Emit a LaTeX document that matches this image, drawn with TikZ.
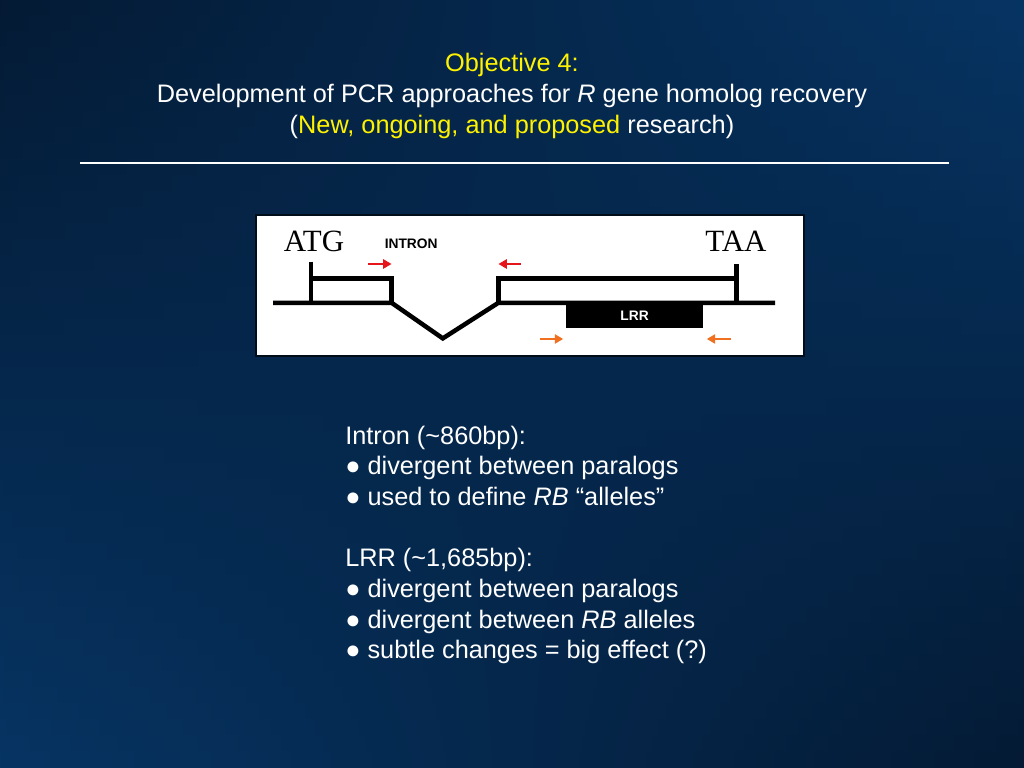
\documentclass[tikz,border=0pt]{standalone}
\usepackage{fontspec}
\setmainfont{Liberation Sans}
\newfontfamily\codonfont{Liberation Serif}
\usetikzlibrary{arrows.meta}
\definecolor{bgdark}{RGB}{4,26,52}
\definecolor{bglight}{RGB}{6,52,99}
\definecolor{primerred}{RGB}{228,22,28}
\definecolor{primerorange}{RGB}{240,112,32}

\begin{document}
\begin{tikzpicture}[
gene/.style={line width=3.2pt,line join=miter},
primer/.style={line width=1.8pt,-{Triangle[length=6pt,width=6.5pt]}},
codon/.style={font=\codonfont\fontsize{22}{24}\selectfont},
tag/.style={font=\bfseries\fontsize{9.8}{12}\selectfont},
slidetext/.style={text=white,inner sep=0pt,font=\fontsize{18}{21.8}\selectfont}]

\useasboundingbox (0,0) rectangle (25.6,19.2);
% background
\foreach \i in {0,...,47}{
  \pgfmathsetmacro\p{(\i+0.5)*100/48}
  \colorlet{lc}{bglight!\p!bgdark}
  \colorlet{rc}{bgdark!\p!bglight}
  \shade[left color=lc,right color=rc] (0,19.2-\i*0.4) rectangle (25.6,18.78-\i*0.4);
}

% heading
\node[slidetext,align=center,anchor=north] (title) at (12.8,17.87)
  {\textcolor{yellow}{Objective 4:}\\
   Development of PCR approaches for \textit{R} gene homolog recovery\\
   (\textcolor{yellow}{New, ongoing, and proposed} research)};
\draw[white,line width=2.1pt] (2.0,15.125) -- (23.725,15.125);

% gene model
\draw[fill=white,draw=bgdark!50!black,line width=1.2pt] (6.4,10.3) rectangle (20.1,13.825);
\draw[gene] (6.825,11.63) -- (9.79,11.63) -- (11.07,10.74) -- (12.46,11.63) -- (19.375,11.63);
\draw[gene] (7.775,12.66) -- (7.775,11.63);
\draw[gene] (7.775,12.24) -- (9.79,12.24) -- (9.79,11.63);
\draw[gene] (12.46,11.63) -- (12.46,12.24) -- (18.41,12.24);
\draw[gene] (18.41,12.6) -- (18.41,11.63);
\draw (15.865,11.315) node[fill=black,text=white,tag,minimum width=3.43cm,minimum height=0.61cm] (lrr) {LRR};

\draw (7.85,13.175) node[codon] (atg) {ATG};
\draw (18.4,13.175) node[codon] (taa) {TAA};
\draw (10.28,13.1) node[tag] (intron) {INTRON};

% primers
\draw[primer,primerred] (9.21,12.6) -- (9.79,12.6);
\draw[primer,primerred] (13.02,12.6) -- (12.46,12.6);
\draw[primer,primerorange] (13.5,10.725) -- (14.08,10.725);
\draw[primer,primerorange] (18.27,10.725) -- (17.67,10.725);

% notes
\node[slidetext,align=left,anchor=north west] (notes) at (8.625,8.56)
  {Intron (\textasciitilde860bp):\\
   ● divergent between paralogs\\
   ● used to define \textit{RB} “alleles”\\[21.8pt]
   LRR (\textasciitilde1,685bp):\\
   ● divergent between paralogs\\
   ● divergent between \textit{RB} alleles\\
   ● subtle changes = big effect (?)};
\end{tikzpicture}
\end{document}
